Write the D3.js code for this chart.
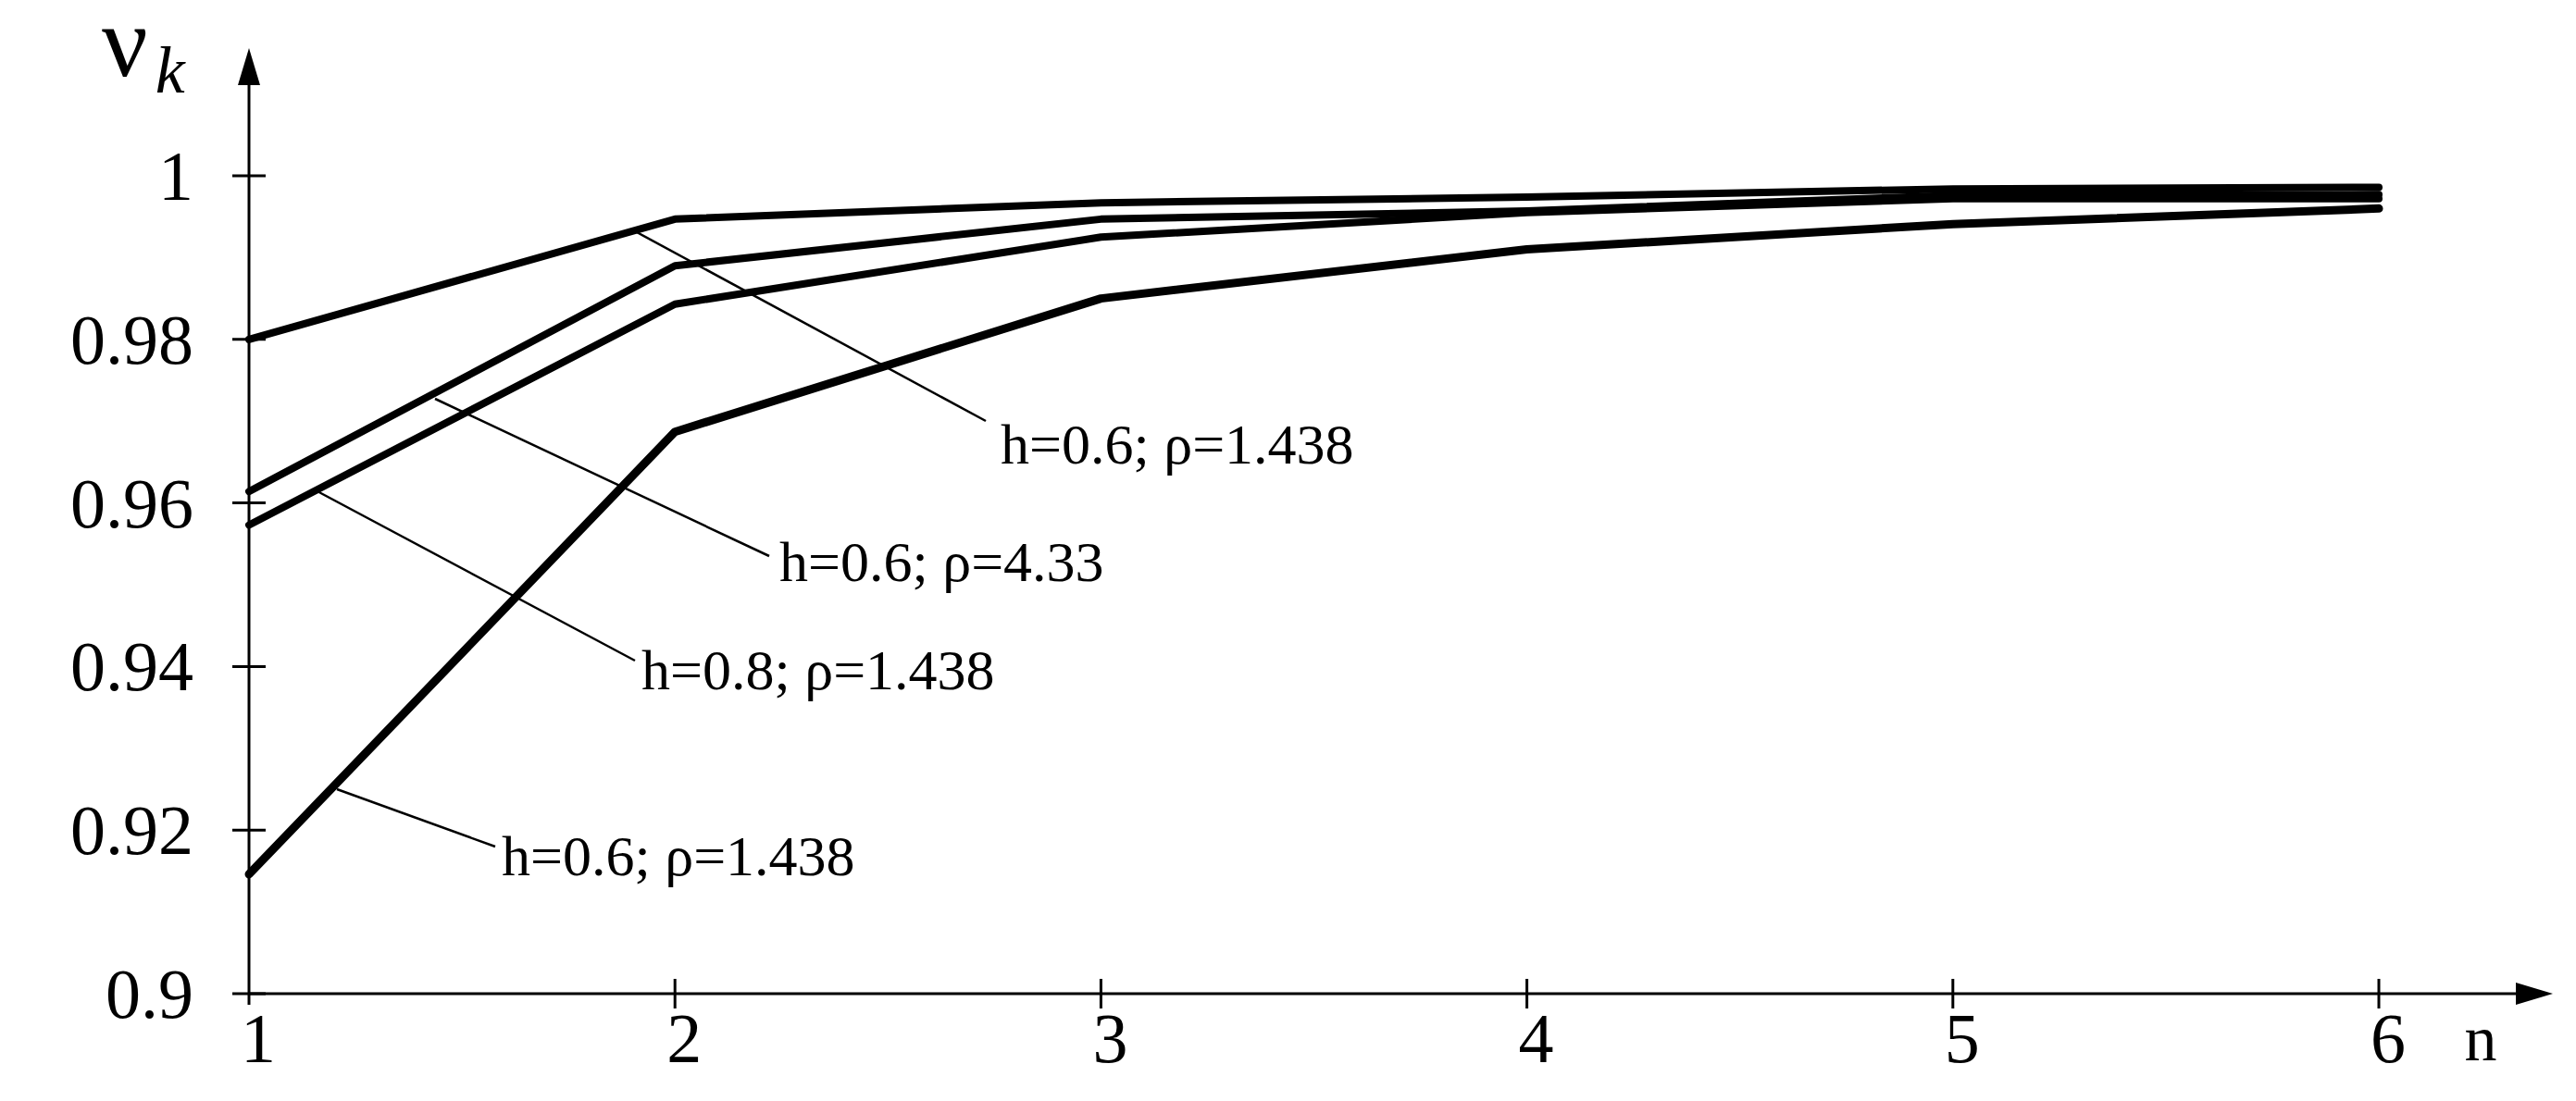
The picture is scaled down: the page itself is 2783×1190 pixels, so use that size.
<!DOCTYPE html><html><head><meta charset="utf-8"><script src="https://cdn.jsdelivr.net/npm/d3@7"></script>
<style>body{margin:0;background:#fff}text{font-family:"Liberation Serif","Times New Roman",serif}</style></head><body><svg id="c" width="2783" height="1190"></svg><script>
const nValues=[1,2,3,4,5,6];
const yTicks=[0.9,0.92,0.94,0.96,0.98,1];
const series1=[0.980,0.9947,0.9967,0.9974,0.9984,0.9986];
const series2=[0.9614,0.9890,0.9947,0.9957,0.9976,0.9977];
const series3=[0.9573,0.9843,0.9925,0.9955,0.9972,0.9972];
const series4=[0.9146,0.9687,0.9850,0.9910,0.9941,0.9960];
const labels=["h=0.6; ρ=1.438","h=0.6; ρ=4.33","h=0.8; ρ=1.438","h=0.6; ρ=1.438"];
const svg=d3.select("#c");
const x=d3.scaleLinear().domain([1,6]).range([269,2570]);
const y=d3.scaleLinear().domain([0.9,1]).range([1074,190]);
svg.append("line").attr("x1",x(1)).attr("x2",2725).attr("y1",y(0.9)).attr("y2",y(0.9)).attr("stroke","#000").attr("stroke-width",3);
svg.append("path").attr("d",`M2758,${y(0.9)} L2718,${y(0.9)-12} L2718,${y(0.9)+12}Z`);
svg.append("line").attr("x1",x(1)).attr("x2",x(1)).attr("y1",y(0.9)+12).attr("y2",85).attr("stroke","#000").attr("stroke-width",3);
svg.append("path").attr("d",`M${x(1)},52 L${x(1)-12},92 L${x(1)+12},92Z`);
const yAx=svg.append("g").attr("transform",`translate(${x(1)},0)`).call(d3.axisLeft(y).tickValues(yTicks).tickSize(0));
yAx.remove();
yTicks.forEach(t=>{
 svg.append("line").attr("x1",x(1)-18).attr("x2",x(1)+18).attr("y1",y(t)).attr("y2",y(t)).attr("stroke","#000").attr("stroke-width",3);
 svg.append("text").attr("x",x(1)-60).attr("y",y(t)+26).attr("text-anchor","end").attr("font-size",76).text(t===1?"1":String(t));
});
nValues.forEach(n=>{
 if(n>1) svg.append("line").attr("x1",x(n)).attr("x2",x(n)).attr("y1",y(0.9)-16).attr("y2",y(0.9)+16).attr("stroke","#000").attr("stroke-width",3);
 svg.append("text").attr("x",x(n)+10).attr("y",1148).attr("text-anchor","middle").attr("font-size",76).text(n);
});
svg.append("text").attr("x",2680).attr("y",1146).attr("text-anchor","middle").attr("font-size",70).text("n");
const yl=svg.append("text").attr("x",110).attr("y",82).attr("font-size",110);
yl.append("tspan").text("ν");
yl.append("tspan").attr("dy",18).attr("dx",8).attr("font-style","italic").attr("font-size",72).text("k");
const line=d3.line().x((d,i)=>x(nValues[i])).y(d=>y(d));
[series1,series2,series3,series4].forEach((s,i)=>{
 svg.append("path").datum(s).attr("d",line).attr("fill","none").attr("stroke","#000").attr("stroke-width",i===3?9:8).attr("stroke-linecap","round").attr("stroke-linejoin","round");
});
const leaders=[[688,251,1065,455],[470,431,831,601],[341,530,686,714],[364,853,535,915]];
const lpos=[[1081,501],[842,628],[693,745],[542,946]];
leaders.forEach(l=>svg.append("line").attr("x1",l[0]).attr("y1",l[1]).attr("x2",l[2]).attr("y2",l[3]).attr("stroke","#000").attr("stroke-width",2.5));
labels.forEach((t,i)=>svg.append("text").attr("x",lpos[i][0]).attr("y",lpos[i][1]).attr("font-size",62).text(t));
</script></body></html>
